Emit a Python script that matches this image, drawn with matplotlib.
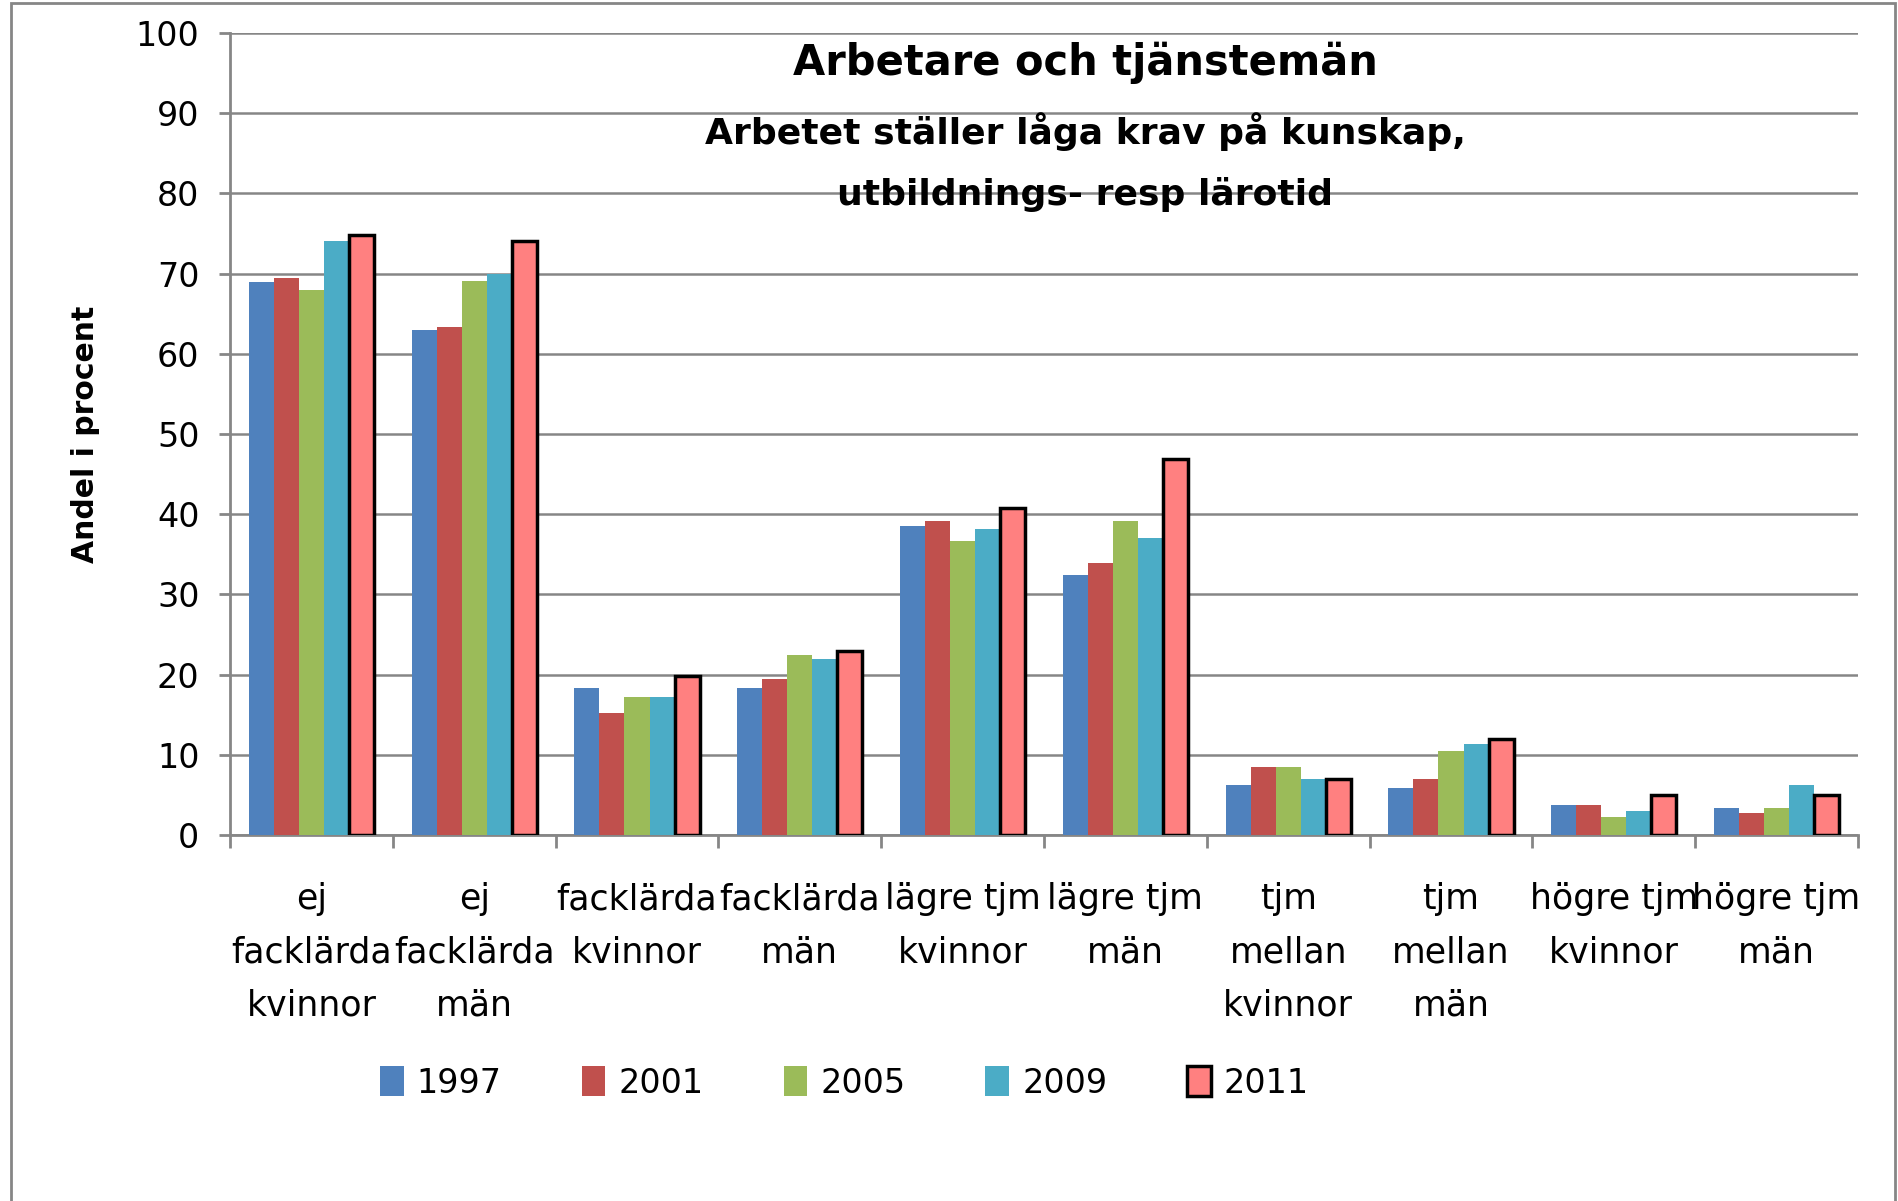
import numpy as np
import matplotlib
matplotlib.use("Agg")
import matplotlib.pyplot as plt
from matplotlib.patches import Rectangle

# data
categories = ["ej\nfacklärda\nkvinnor", "ej\nfacklärda\nmän", "facklärda\nkvinnor",
              "facklärda\nmän", "lägre tjm\nkvinnor", "lägre tjm\nmän",
              "tjm\nmellan\nkvinnor", "tjm\nmellan\nmän", "högre tjm\nkvinnor",
              "högre tjm\nmän"]
years = ["1997", "2001", "2005", "2009", "2011"]
v1997 = [69.0, 63.0, 18.3, 18.3, 38.5, 32.4, 6.2, 5.8, 3.8, 3.4]
v2001 = [69.5, 63.4, 15.2, 19.4, 39.2, 33.9, 8.5, 7.0, 3.8, 2.7]
v2005 = [68.0, 69.1, 17.2, 22.5, 36.6, 39.2, 8.5, 10.5, 2.3, 3.4]
v2009 = [74.1, 69.9, 17.2, 22.0, 38.1, 37.0, 7.0, 11.3, 3.0, 6.2]
v2011 = [74.8, 74.1, 19.8, 22.9, 40.8, 46.9, 7.0, 12.0, 5.0, 5.0]
series = [v1997, v2001, v2005, v2009, v2011]
colors = ["#4F81BD", "#C0504D", "#9BBB59", "#4BACC6", "#FF8080"]

grey = "#868686"
plt.rcParams['font.family'] = ['DejaVu Sans']

fig = plt.figure(figsize=(18.98, 12.01), dpi=100)
ax = fig.add_axes([230/1898, 1-835/1201, (1858-230)/1898, (835-33)/1201])

x = np.arange(len(categories))
w = 0.154
for i, (vals, c) in enumerate(zip(series, colors)):
    if years[i] == "2011":
        ax.bar(x + (i-2)*w, vals, w, color=c, edgecolor="black", linewidth=2.5,
               label=years[i], zorder=3)
    else:
        ax.bar(x + (i-2)*w, vals, w, color=c, linewidth=0, label=years[i], zorder=3)

ax.set_xlim(-0.5, len(categories)-0.5)
ax.set_ylim(0, 100)
ax.set_yticks(np.arange(0, 101, 10))
ax.yaxis.grid(True, color=grey, linewidth=1.8, zorder=0)
ax.set_axisbelow(True)
for s in ["top", "right"]:
    ax.spines[s].set_visible(False)
for s in ["left", "bottom"]:
    ax.spines[s].set_color(grey)
    ax.spines[s].set_linewidth(2)

ax.set_xticks(np.arange(-0.5, len(categories), 1.0))
ax.set_xticklabels([])
ax.set_xticks(x, minor=True)
ax.set_xticklabels(categories, minor=True, fontsize=25, linespacing=1.7)
ax.tick_params(axis="x", which="major", length=9, width=2, color=grey, direction="out")
ax.tick_params(axis="x", which="minor", length=0, pad=34)
ax.tick_params(axis="y", length=8, width=2, color=grey, direction="out",
               labelsize=24, pad=14)

ax.set_ylabel("Andel i procent", fontsize=21.5, fontweight="bold", labelpad=26)

fig.text(1085/1898, 1-63/1201, "Arbetare och tjänstemän", fontsize=30,
         fontweight="bold", ha="center", va="center")
fig.text(1085/1898, 1-132/1201, "Arbetet ställer låga krav på kunskap,", fontsize=26,
         fontweight="bold", ha="center", va="center")
fig.text(1085/1898, 1-195/1201, "utbildnings- resp lärotid", fontsize=26,
         fontweight="bold", ha="center", va="center")

fig.legend(loc="center", bbox_to_anchor=(0.445, 1-1083/1201), ncol=5,
           frameon=False, fontsize=24, handlelength=0.7, handleheight=1.0,
           handletextpad=0.4, columnspacing=2.4)

# outer chart frame
fig.patches.append(Rectangle((11/1898, -0.05), (1895-11)/1898, 1.05-3/1201,
                             transform=fig.transFigure, fill=False,
                             edgecolor=grey, linewidth=2))

fig.savefig("out.png", dpi=100)
